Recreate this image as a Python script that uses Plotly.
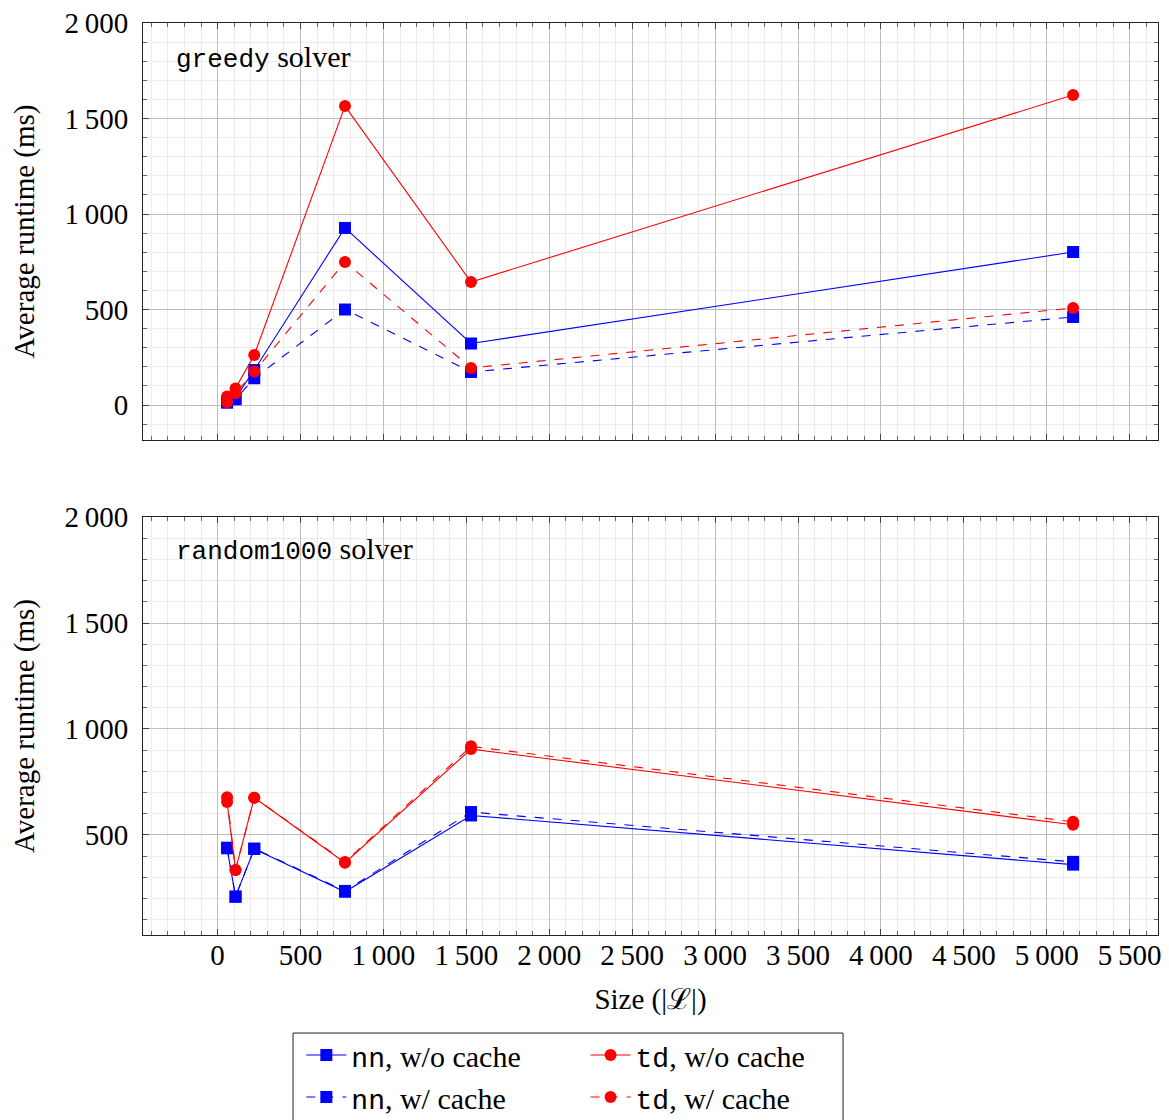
import plotly.graph_objects as go

# ---------------- data ----------------
sizes = [57, 108, 221, 768, 1528, 5159]

greedy_nn_wo = [17, 38, 183, 927, 322, 801]
greedy_nn_w = [12, 30, 140, 500, 173, 461]
greedy_td_wo = [44, 87, 262, 1565, 644, 1623]
greedy_td_w = [14, 61, 175, 749, 194, 508]

random_nn_wo = [437, 209, 434, 232, 592, 360]
random_nn_w = [440, 209, 436, 236, 608, 373]
random_td_wo = [655, 335, 676, 369, 905, 548]
random_td_w = [678, 335, 676, 373, 918, 562]

x_tickvals = [0, 500, 1000, 1500, 2000, 2500, 3000, 3500, 4000, 4500, 5000, 5500]
x_ticktext = ["0", "500", "1\u2009000", "1\u2009500", "2\u2009000", "2\u2009500", "3\u2009000",
              "3\u2009500", "4\u2009000", "4\u2009500", "5\u2009000", "5\u2009500"]
y_tickvals = [0, 500, 1000, 1500, 2000]
y_ticktext = ["0", "500", "1\u2009000", "1\u2009500", "2\u2009000"]

panel_titles = ["greedy", "random1000"]
series_names = ["nn, w/o cache", "nn, w/ cache", "td, w/o cache", "td, w/ cache"]

# ---------------- styles ----------------
SERIF = "Liberation Serif"
MONO = "Liberation Mono"
BLUE = "#0000ff"
RED = "#ff0000"
FS = 29

def mono(s, size=26):
    return f'<span style="font-family:{MONO};font-size:{size}px">{s}</span>'

def label(name):
    code, rest = name.split(",", 1)
    return mono(code, 28) + "," + rest

styles = [
    dict(color=BLUE, dash="solid", symbol="square", size=12, legend="legend"),
    dict(color=BLUE, dash="9px,9px", symbol="square", size=12, legend="legend"),
    dict(color=RED, dash="solid", symbol="circle", size=12, legend="legend2"),
    dict(color=RED, dash="9px,9px", symbol="circle", size=12, legend="legend2"),
]

panels = [
    ("x", "y", [greedy_nn_wo, greedy_nn_w, greedy_td_wo, greedy_td_w], True),
    ("x2", "y2", [random_nn_wo, random_nn_w, random_td_wo, random_td_w], False),
]

fig = go.Figure()
for xa, ya, series, show in panels:
    for name, vals, st in zip(series_names, series, styles):
        fig.add_trace(go.Scatter(
            x=sizes, y=vals, xaxis=xa, yaxis=ya, mode="lines+markers",
            name=label(name), showlegend=show, legend=st["legend"],
            line=dict(color=st["color"], width=1.1, dash=st["dash"]),
            marker=dict(color=st["color"], symbol=st["symbol"], size=st["size"],
                        line=dict(width=0)),
        ))

axis_common = dict(
    showline=True, linecolor="#222222", linewidth=1, mirror="allticks",
    ticks="inside", ticklen=6, tickcolor="#444444", tickwidth=1,
    showgrid=True, gridcolor="#bdbdbd", gridwidth=1, zeroline=False,
    tickfont=dict(family=SERIF, size=FS, color="black"),
)
minor = dict(dtick=100, tick0=0, ticks="inside", ticklen=4, tickcolor="#666666",
             showgrid=True, gridcolor="#ececec", gridwidth=1)

xrange = [-450, 5671]
ytitle_font = dict(family=SERIF, size=FS, color="black")
layout_axes = dict(
    xaxis=dict(axis_common, domain=[0, 1], anchor="y", range=xrange,
               tickmode="array", tickvals=x_tickvals, ticktext=x_ticktext,
               showticklabels=False, minor=minor),
    yaxis=dict(axis_common, domain=[0.5428, 1], anchor="x", range=[-183, 2000],
               tickmode="array", tickvals=y_tickvals, ticktext=y_ticktext, minor=minor,
               ticklabelstandoff=8,
               title=dict(text="Average runtime (ms)", standoff=21, font=ytitle_font)),
    xaxis2=dict(axis_common, domain=[0, 1], anchor="y2", range=xrange,
                tickmode="array", tickvals=x_tickvals, ticktext=x_ticktext, minor=minor,
                ticklabelstandoff=-6,
                title=dict(text="Size (|ℒ|)", standoff=18, font=ytitle_font)),
    yaxis2=dict(axis_common, domain=[0, 0.4583], anchor="x2", range=[28, 2000],
                tickmode="array", tickvals=y_tickvals, ticktext=y_ticktext, minor=minor,
                ticklabelstandoff=8,
                title=dict(text="Average runtime (ms)", standoff=21, font=ytitle_font)),
)

annotations = [
    dict(text=mono(panel_titles[0]) + " solver", xref="x domain", yref="y domain",
         x=0.031, y=0.918, xanchor="left", yanchor="middle", showarrow=False,
         font=dict(family=SERIF, size=30, color="black")),
    dict(text=mono(panel_titles[1]) + " solver", xref="x2 domain", yref="y2 domain",
         x=0.031, y=0.923, xanchor="left", yanchor="middle", showarrow=False,
         font=dict(family=SERIF, size=30, color="black")),
]

legend_common = dict(
    orientation="v", xanchor="left", yanchor="top", yref="paper", xref="paper",
    bgcolor="rgba(0,0,0,0)", borderwidth=0, tracegroupgap=0,
    font=dict(family=SERIF, size=30, color="black"), itemwidth=40,
)

fig.update_layout(
    width=1169, height=1120,
    margin=dict(l=143, r=11, t=23, b=185, autoexpand=False),
    paper_bgcolor="white", plot_bgcolor="white",
    font=dict(family=SERIF, size=FS, color="black"),
    showlegend=True,
    legend=dict(legend_common, x=0.156, y=-0.103),
    legend2=dict(legend_common, x=0.436, y=-0.103),
    annotations=annotations,
    shapes=[dict(type="rect", xref="paper", yref="paper", x0=0.1478, x1=0.6897,
                 y0=-0.1075, y1=-0.215, line=dict(color="#222222", width=1),
                 fillcolor="rgba(0,0,0,0)", layer="above")],
    **layout_axes,
)

fig.write_html("out.html")
